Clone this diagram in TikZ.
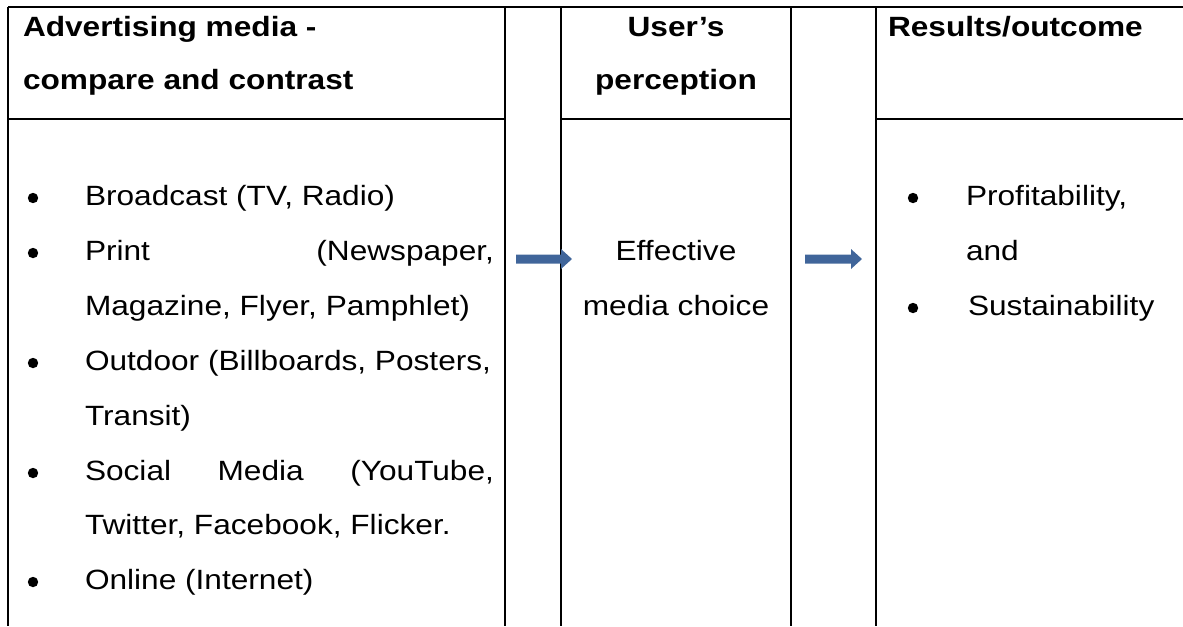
\documentclass[tikz,border=0pt]{standalone}
\usepackage{fontspec}
\setmainfont[FakeStretch=1.135]{Liberation Sans}
\definecolor{arrowblue}{HTML}{40659A}
\tikzset{
  rule/.style={line width=1pt, black},
  cell/.style={inner sep=0pt, outer sep=0pt, anchor=base west, font=\fontsize{20.9}{25}\selectfont},
  headcell/.style={cell, font=\fontsize{20.9}{25}\selectfont\bfseries},
  midcell/.style={cell, anchor=base},
  midhead/.style={headcell, anchor=base},
  dot/.style={circle, fill=black, inner sep=0pt, minimum size=7.8pt},
  blockarrow/.style={fill=arrowblue, draw=none}
}
% a justified line of the bulleted list, spread to the full text width
\newcommand{\justline}[1]{\hbox to 306.75pt{#1}}
\begin{document}
\begin{tikzpicture}[x=0.75pt, y=-0.75pt]
\useasboundingbox (0,0) rectangle (1183,626);

% column borders
\draw[rule] (8,7) -- (1183,7);
\foreach \cx in {8,505,561,791,876}
  \draw[rule] (\cx,7) -- (\cx,626);
% header separators (not across the arrow columns)
\draw[rule] (8,119) -- (505,119);
\draw[rule] (561,119) -- (791,119);
\draw[rule] (876,119) -- (1183,119);

% header texts
\node[headcell] (h1a) at (23,36) {Advertising media -};
\node[headcell] (h1b) at (23,89) {compare and contrast};
\node[midhead] (h2a) at (676,36) {User’s};
\node[midhead] (h2b) at (676,89) {perception};
\node[headcell] (h3a) at (888,36) {Results/outcome};

% media list
\node[dot] (b1) at (33,198) {};
\node[cell] (t1) at (85,205) {Broadcast (TV, Radio)};
\node[dot] (b2) at (33,253) {};
\node[cell] (t2) at (85,260) {\justline{Print\hfill(Newspaper,}};
\node[cell] (t3) at (85,315) {Magazine, Flyer, Pamphlet)};
\node[dot] (b3) at (33,363) {};
\node[cell] (t4) at (85,370) {Outdoor (Billboards, Posters,};
\node[cell] (t5) at (85,425) {Transit)};
\node[dot] (b4) at (33,473) {};
\node[cell] (t6) at (85,480) {\justline{Social\hfill Media\hfill(YouTube,}};
\node[cell] (t7) at (85,534) {Twitter, Facebook, Flicker.};
\node[dot] (b5) at (33,582) {};
\node[cell] (t8) at (85,589) {Online (Internet)};

% perception cell
\node[midcell] (p1) at (676,260) {Effective};
\node[midcell] (p2) at (676,315) {media choice};

% outcome list
\node[dot] (c1) at (913,198) {};
\node[cell] (o1) at (966,205) {Profitability,};
\node[cell] (o2) at (966,260) {and};
\node[dot] (c2) at (913,308) {};
\node[cell] (o3) at (968,315) {Sustainability};

% block arrows between the columns
\fill[blockarrow] (516,254.5) -- (561,254.5) -- (561,249) -- (572,259)
  -- (561,269) -- (561,263.5) -- (516,263.5) -- cycle;
\fill[blockarrow] (805,254.5) -- (851,254.5) -- (851,249) -- (862,259)
  -- (851,269) -- (851,263.5) -- (805,263.5) -- cycle;
\end{tikzpicture}
\end{document}
